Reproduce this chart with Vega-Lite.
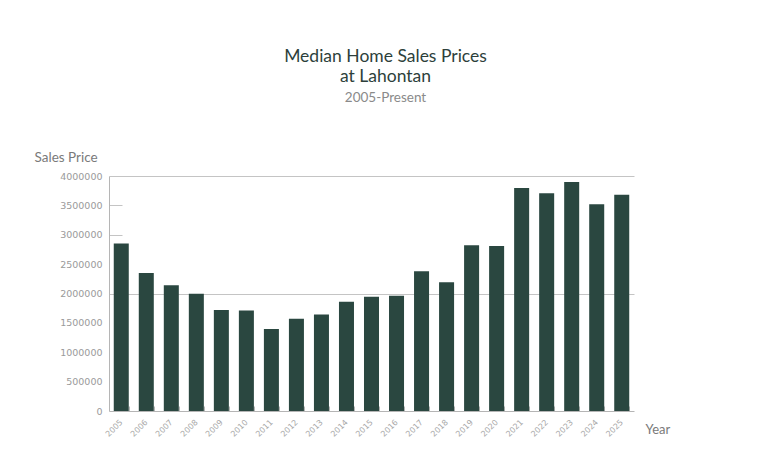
{
  "$schema": "https://vega.github.io/schema/vega-lite/v6.json",
  "width": 525,
  "height": 235,
  "autosize": {"type": "none"},
  "padding": {"left": 109, "top": 176, "right": 138, "bottom": 47},
  "title": {
    "text": ["Median Home Sales Prices", "at Lahontan"],
    "subtitle": "2005-Present",
    "anchor": "middle",
    "frame": "group",
    "dx": 14,
    "offset": 46,
    "font": "Lato",
    "fontSize": 17.5,
    "fontWeight": "normal",
    "lineHeight": 20,
    "color": "#2d3f3b",
    "subtitleFont": "Lato",
    "subtitleFontSize": 13.5,
    "subtitleColor": "#8a8a8a",
    "subtitlePadding": 5
  },
  "data": {
    "values": [
      {"Year": "2005", "Price": 2850000},
      {"Year": "2006", "Price": 2350000},
      {"Year": "2007", "Price": 2140000},
      {"Year": "2008", "Price": 1995000},
      {"Year": "2009", "Price": 1718000},
      {"Year": "2010", "Price": 1710000},
      {"Year": "2011", "Price": 1395000},
      {"Year": "2012", "Price": 1570000},
      {"Year": "2013", "Price": 1643000},
      {"Year": "2014", "Price": 1859000},
      {"Year": "2015", "Price": 1944000},
      {"Year": "2016", "Price": 1961000},
      {"Year": "2017", "Price": 2380000},
      {"Year": "2018", "Price": 2193000},
      {"Year": "2019", "Price": 2820000},
      {"Year": "2020", "Price": 2810000},
      {"Year": "2021", "Price": 3796000},
      {"Year": "2022", "Price": 3705000},
      {"Year": "2023", "Price": 3898000},
      {"Year": "2024", "Price": 3520000},
      {"Year": "2025", "Price": 3680000}
    ]
  },
  "mark": {"type": "bar", "color": "#2a4740"},
  "encoding": {
    "x": {
      "field": "Year",
      "type": "ordinal",
      "scale": {"paddingInner": 0.4, "paddingOuter": 0.19},
      "axis": {
        "title": "Year",
        "titleX": 536,
        "titleY": 18,
        "titleAlign": "left",
        "titleBaseline": "middle",
        "titleAngle": 0,
        "titleFont": "Lato",
        "titleFontSize": 13,
        "titleFontWeight": "normal",
        "titleColor": "#7a7a7a",
        "labelAngle": -45,
        "labelAlign": "right",
        "labelBaseline": "middle",
        "labelFont": "DejaVu Sans",
        "labelFontSize": 8,
        "labelColor": "#a8a8a8",
        "labelPadding": 15,
        "tickBand": "extent",
        "tickSize": -5,
        "tickColor": "#b5b5b5",
        "domainColor": "#b5b5b5",
        "grid": false
      }
    },
    "y": {
      "field": "Price",
      "type": "quantitative",
      "scale": {"domain": [0, 4000000]},
      "axis": {
        "title": "Sales Price",
        "titleX": -75,
        "titleY": -19,
        "titleAngle": 0,
        "titleAlign": "left",
        "titleBaseline": "middle",
        "titleFont": "Lato",
        "titleFontSize": 13.5,
        "titleFontWeight": "normal",
        "titleColor": "#7a7a7a",
        "values": [0, 500000, 1000000, 1500000, 2000000, 2500000, 3000000, 3500000, 4000000],
        "format": "d",
        "labelFont": "DejaVu Sans",
        "labelFontSize": 9.5,
        "labelColor": "#9a9a9a",
        "labelPadding": 20,
        "tickSize": -13,
        "tickColor": {
          "condition": {"test": "datum.value == 3000000 || datum.value == 3500000", "value": "#c4c4c4"},
          "value": "transparent"
        },
        "grid": true,
        "gridColor": {
          "condition": {"test": "datum.value == 2000000 || datum.value == 4000000", "value": "#c4c4c4"},
          "value": "transparent"
        },
        "domainColor": "#b5b5b5"
      }
    }
  },
  "config": {
    "view": {"stroke": null}
  }
}
